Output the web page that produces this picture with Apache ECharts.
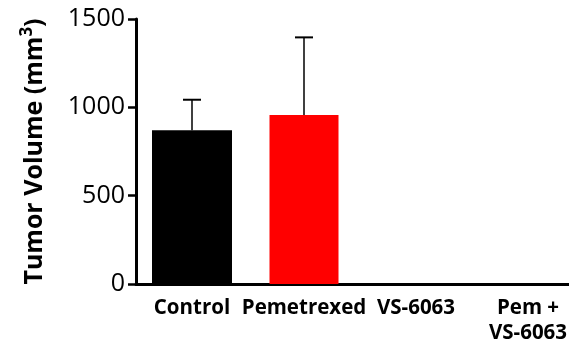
<!DOCTYPE html>
<html>
<head>
<meta charset="utf-8">
<script src="https://cdn.jsdelivr.net/npm/echarts@6/dist/echarts.min.js"></script>
<style>
  html,body{margin:0;padding:0;background:#fff;}
  #chart{width:569px;height:345px;}
</style>
</head>
<body>
<div id="chart"></div>
<script>
// data
var groups = ['Control', 'Pemetrexed', 'VS-6063', 'Pem +\nVS-6063']
var meanVolume = [870, 957, 0, 0]
var upperError = [1043, 1396, null, null]
var yTicks = [0, 500, 1000, 1500]

var chart = echarts.init(document.getElementById('chart'))

var blackData = meanVolume.map(function (v, i) { return i === 0 ? v : '-' })
var redData = meanVolume.map(function (v, i) { return i === 0 ? '-' : v })
var errData = []
upperError.forEach(function (u, i) {
  if (u != null) errData.push([i, meanVolume[i], u])
})

var option = {
  animation: false,
  // plot runs past the right edge, as in the original crop
  grid: { left: 136, top: 19, bottom: 61, width: 448, outerBoundsMode: 'none', containLabel: false },
  xAxis: [{
    type: 'category',
    data: groups,
    axisLine: { lineStyle: { color: '#000', width: 3 } },
    axisTick: { alignWithLabel: true, length: 7, lineStyle: { color: '#000', width: 2.5 } },
    axisLabel: {
      color: '#000', fontFamily: 'Open Sans', fontWeight: 'bold', fontSize: 20.5,
      margin: 12, lineHeight: 25, interval: 0
    }
  }, {
    type: 'category',
    data: groups,
    show: false
  }],
  yAxis: {
    type: 'value',
    min: yTicks[0],
    max: yTicks[yTicks.length - 1],
    interval: 500,
    name: 'Tumor Volume (mm{sup|3})',
    nameLocation: 'middle',
    nameGap: 86,
    nameTextStyle: {
      color: '#000', fontFamily: 'Open Sans', fontWeight: 'bold', fontSize: 25,
      rich: {
        sup: { fontFamily: 'Open Sans', fontWeight: 'bold', fontSize: 17, verticalAlign: 'top', padding: [0, 0, 14, 0], color: '#000' }
      }
    },
    axisLine: { show: true, lineStyle: { color: '#000', width: 3 } },
    axisTick: { show: true, length: 8, lineStyle: { color: '#000', width: 2.5 } },
    axisLabel: {
      color: '#000', fontFamily: 'Open Sans', fontSize: 25, margin: 11,
      formatter: function (v) { return String(v) }
    },
    splitLine: { show: false }
  },
  series: [{
    type: 'bar',
    xAxisIndex: 0,
    data: blackData,
    barWidth: 80,
    itemStyle: { color: '#000' }
  }, {
    type: 'bar',
    xAxisIndex: 1,
    data: redData,
    barWidth: 69,
    itemStyle: { color: '#ff0000' }
  }, {
    type: 'custom',
    xAxisIndex: 0,
    data: errData,
    z: 1,
    renderItem: function (params, api) {
      var i = api.value(0)
      var lo = api.coord([i, api.value(1)])
      var hi = api.coord([i, api.value(2)])
      var half = 9
      return {
        type: 'group',
        children: [{
          type: 'line',
          shape: { x1: lo[0], y1: lo[1], x2: hi[0], y2: hi[1] },
          style: { stroke: '#000', lineWidth: 1.5 }
        }, {
          type: 'line',
          shape: { x1: hi[0] - half, y1: hi[1], x2: hi[0] + half, y2: hi[1] },
          style: { stroke: '#000', lineWidth: 2 }
        }]
      }
    }
  }]
}
chart.setOption(option)
</script>
</body>
</html>
